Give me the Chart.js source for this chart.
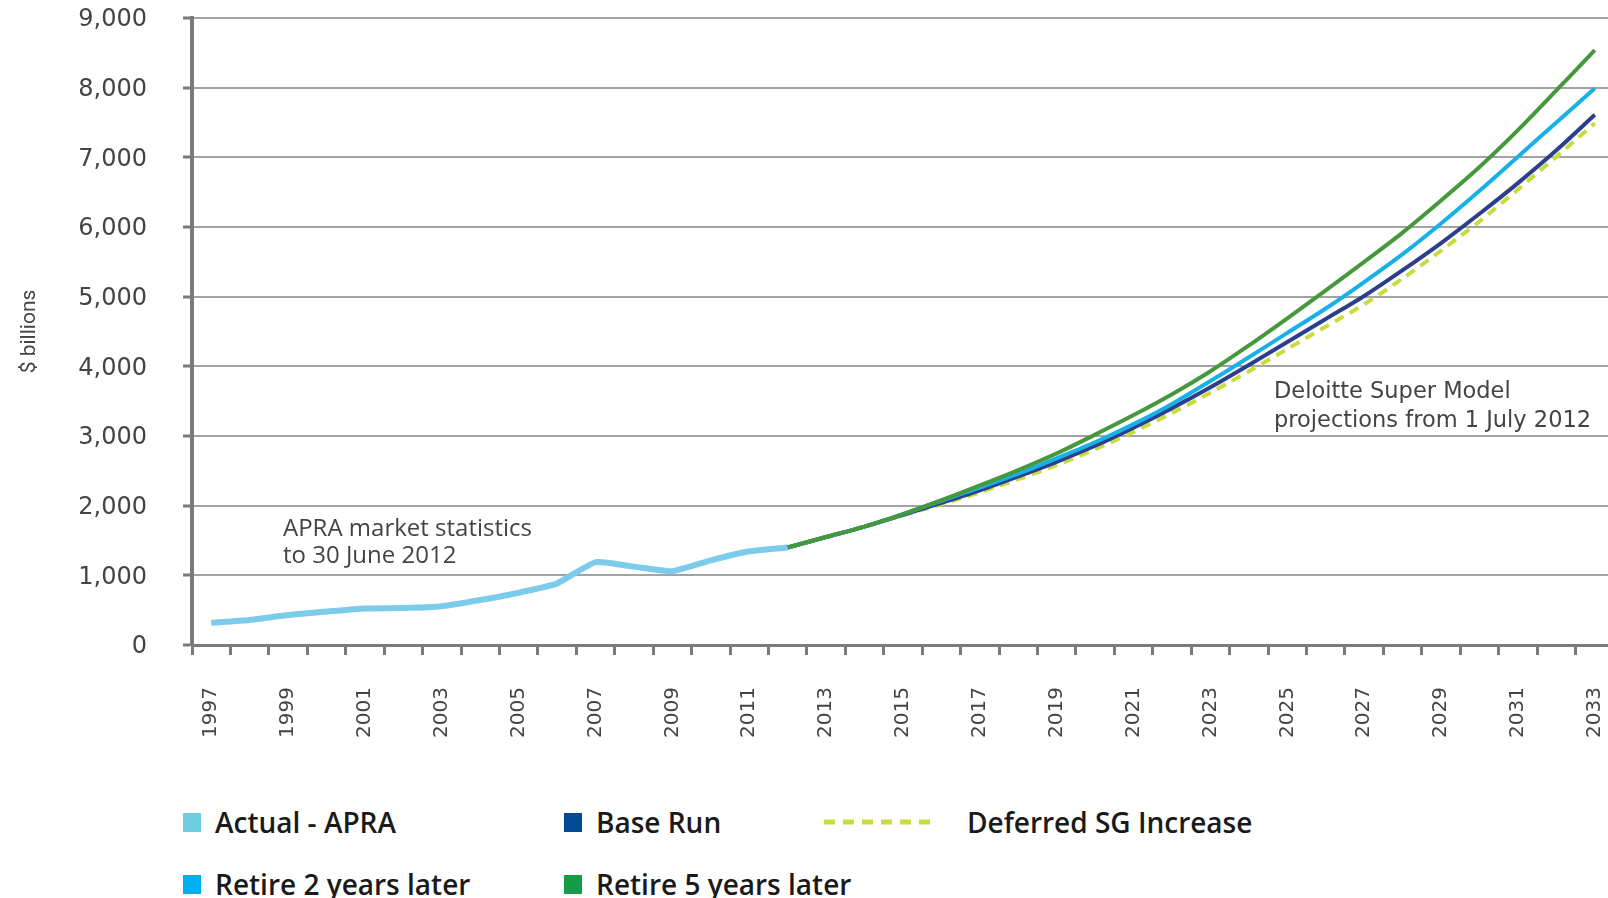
<!DOCTYPE html>
<html>
<head>
<meta charset="utf-8">
<title>Superannuation assets projection</title>
<script src="https://cdn.jsdelivr.net/npm/chart.js@4.4.1/dist/chart.umd.min.js"></script>
<style>
    html, body { margin: 0; padding: 0; background: #fff; }
    #wrap { position: relative; width: 1608px; height: 898px; overflow: hidden; }
    .leg { position: absolute; font-family: 'Open Sans'; font-weight: 600; font-size: 28px; color: #1a1a1a; white-space: nowrap; line-height: 30px; height: 30px; }
    .leg .sw { position: absolute; left: 0; top: 6px; width: 18px; height: 19px; }
    .leg .dash { position: absolute; left: 0; top: 10px; }
    .leg .txt { position: absolute; top: 0; }
</style>
</head>
<body>
<div id="wrap">
    <canvas id="superChart" width="1640" height="770"></canvas>
    <div id="legend"></div>
</div>
<script>
// x categories (financial years)
const years = ['1997', '1998', '1999', '2000', '2001', '2002', '2003', '2004', '2005', '2006',
    '2007', '2008', '2009', '2010', '2011', '2012', '2013', '2014', '2015', '2016',
    '2017', '2018', '2019', '2020', '2021', '2022', '2023', '2024', '2025', '2026',
    '2027', '2028', '2029', '2030', '2031', '2032', '2033'];

// APRA actuals, 1997 - 2012 ($ billions)
const actualApra = [320, 360, 430, 480, 525, 530, 555, 645, 750, 885, 1190, 1125, 1060, 1215, 1345, 1400];

// projections, 2012 - 2033 ($ billions)
const baseRun = [1400, 1550, 1700, 1870, 2040, 2220, 2420, 2630, 2860, 3120, 3400, 3700, 4020, 4350, 4680, 5010, 5380, 5770, 6190, 6630, 7100, 7610];
const deferredSg = [1400, 1550, 1700, 1860, 2020, 2190, 2380, 2580, 2810, 3060, 3330, 3620, 3930, 4250, 4570, 4890, 5260, 5660, 6080, 6540, 7010, 7490];
const retire2 = [1400, 1550, 1700, 1880, 2070, 2260, 2460, 2680, 2910, 3170, 3460, 3790, 4130, 4480, 4830, 5210, 5610, 6050, 6520, 7010, 7500, 7990];
const retire5 = [1400, 1550, 1700, 1880, 2080, 2290, 2510, 2750, 3020, 3300, 3600, 3930, 4300, 4690, 5090, 5500, 5920, 6380, 6860, 7390, 7960, 8540];

const yTicks = [0, 1000, 2000, 3000, 4000, 5000, 6000, 7000, 8000, 9000];

const seriesNames = ['Actual - APRA', 'Base Run', 'Deferred SG Increase', 'Retire 2 years later', 'Retire 5 years later'];

// first projection year sits at index 15 (2012)
const projStart = years.indexOf('2012');

function padActual(arr) {
    return years.map(function (y, i) { return i < arr.length ? arr[i] : null; });
}
function padProjection(arr) {
    return years.map(function (y, i) { return i >= projStart ? arr[i - projStart] : null; });
}

// text notes on the plot
const notesPlugin = {
    id: 'notes',
    afterDatasetsDraw(chart) {
        const ctx = chart.ctx;
        ctx.save();
        ctx.fillStyle = '#444';
        ctx.textBaseline = 'middle';
        ctx.textAlign = 'left';
        ctx.font = '24px "Open Sans"';
        ctx.fillText('APRA market statistics', 283, 529);
        ctx.fillText('to 30 June 2012', 283, 556);
        ctx.font = '22.5px "DejaVu Sans"';
        ctx.fillText('Deloitte Super Model', 1274, 392);
        ctx.fillText('projections from 1 July 2012', 1274, 421);
        ctx.restore();
    }
};

window.onload = function () {
    const ctx = document.getElementById('superChart').getContext('2d');

    const superChart = new Chart(ctx, {
        type: 'line',
        data: {
            labels: years,
            datasets: [{
                label: seriesNames[0],
                data: padActual(actualApra),
                borderColor: '#7ccbea',
                borderWidth: 6,
                tension: 0.15,
                order: 5
            }, {
                label: seriesNames[1],
                data: padProjection(baseRun),
                borderColor: '#2b3f8c',
                borderWidth: 4,
                tension: 0.3,
                order: 3
            }, {
                label: seriesNames[2],
                data: padProjection(deferredSg),
                borderColor: '#c8dc3c',
                borderWidth: 4,
                borderDash: [10, 7],
                tension: 0.3,
                order: 4
            }, {
                label: seriesNames[3],
                data: padProjection(retire2),
                borderColor: '#17b1e8',
                borderWidth: 4,
                tension: 0.3,
                order: 2
            }, {
                label: seriesNames[4],
                data: padProjection(retire5),
                borderColor: '#45983c',
                borderWidth: 4,
                tension: 0.3,
                order: 1
            }]
        },
        options: {
            responsive: false,
            animation: false,
            devicePixelRatio: 1,
            layout: {
                padding: { left: 0, top: 18, right: 26, bottom: 0 }
            },
            elements: {
                point: { radius: 0 },
                line: { borderCapStyle: 'butt', borderJoinStyle: 'round' }
            },
            plugins: {
                legend: { display: false },
                tooltip: { enabled: false }
            },
            scales: {
                x: {
                    offset: true,
                    grid: {
                        offset: true,
                        drawOnChartArea: false,
                        drawTicks: true,
                        tickLength: 10,
                        tickWidth: 3,
                        tickColor: '#7a7a7a'
                    },
                    border: { display: true, color: '#7a7a7a', width: 3 },
                    ticks: {
                        autoSkip: false,
                        maxRotation: 90,
                        minRotation: 90,
                        padding: 32,
                        color: '#444',
                        font: { family: 'DejaVu Sans', size: 20 },
                        callback: function (value, index) {
                            return index % 2 === 0 ? years[index] : '';
                        }
                    },
                    afterFit: function (scale) {
                        scale.height = 125;
                        scale.paddingLeft = 0;
                        scale.paddingRight = 0;
                    }
                },
                y: {
                    min: 0,
                    max: 9000,
                    afterBuildTicks: function (scale) {
                        scale.ticks = yTicks.map(function (v) { return { value: v }; });
                    },
                    grid: {
                        color: '#a3a3a3',
                        lineWidth: 2,
                        tickLength: 9,
                        tickWidth: 3,
                        tickColor: '#7a7a7a'
                    },
                    border: { display: true, color: '#7a7a7a', width: 4 },
                    ticks: {
                        padding: 36,
                        labelOffset: 2,
                        color: '#444',
                        font: { family: 'DejaVu Sans', size: 24 },
                        callback: function (value) { return value.toLocaleString('en-US'); }
                    },
                    title: {
                        display: true,
                        text: '$ billions',
                        color: '#444',
                        font: { family: 'Roboto', size: 21 },
                        padding: { top: 17, bottom: 0 }
                    },
                    afterFit: function (scale) {
                        scale.width = 192;
                        // keep the big label gap from pushing the plot down
                        scale.paddingTop = 14;
                        scale.paddingBottom = 14;
                    }
                }
            }
        },
        plugins: [notesPlugin]
    });

    // legend laid out in the same columns as the original
    const legendColors = ['#6ccde0', '#004b93', '#c8dc3c', '#00aeef', '#169b46'];
    const legendCols = [183, 564, 824, 183, 564];
    const legendRows = [807, 807, 807, 869, 869];
    const legend = document.getElementById('legend');
    superChart.data.datasets.forEach(function (ds, i) {
        const item = document.createElement('div');
        item.className = 'leg';
        item.style.left = legendCols[i] + 'px';
        item.style.top = legendRows[i] + 'px';
        let mark;
        let textLeft = 32;
        if (ds.borderDash) {
            mark = '<svg class="dash" width="112" height="10"><line x1="0" y1="5" x2="112" y2="5" stroke="' +
                legendColors[i] + '" stroke-width="5" stroke-dasharray="11,8"/></svg>';
            textLeft = 143;
        } else {
            mark = '<div class="sw" style="background:' + legendColors[i] + '"></div>';
        }
        item.innerHTML = mark + '<span class="txt" style="left:' + textLeft + 'px">' + ds.label + '</span>';
        legend.appendChild(item);
    });
};
</script>
</body>
</html>
